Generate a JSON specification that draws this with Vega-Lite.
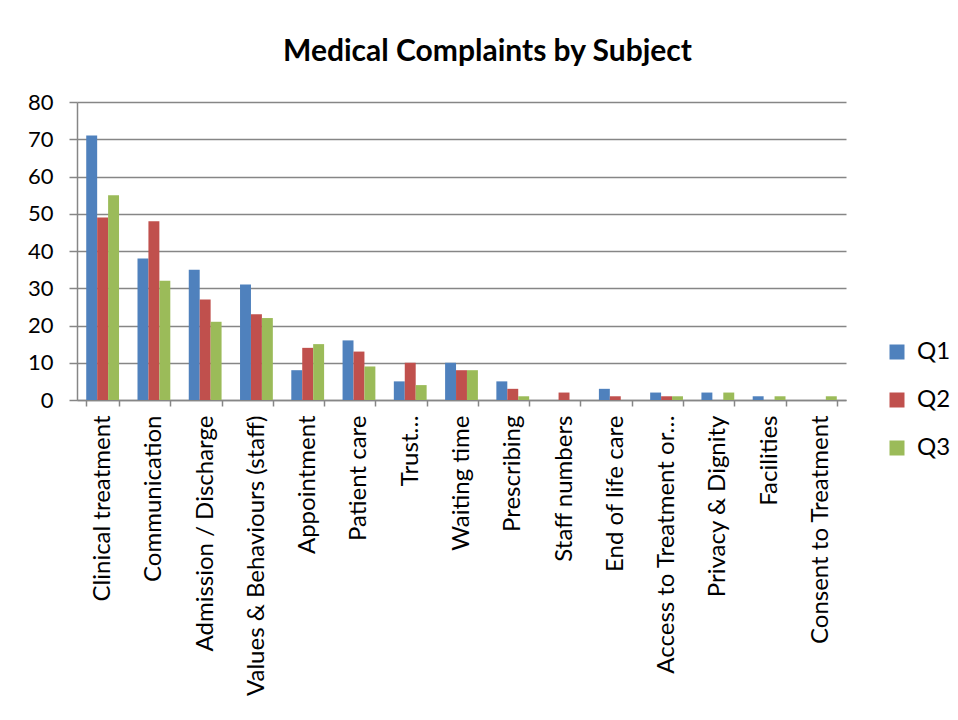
{
  "$schema": "https://vega.github.io/schema/vega-lite/v6.json",
  "autosize": "none",
  "width": 769,
  "height": 298,
  "padding": {"left": 77, "top": 102, "right": 112, "bottom": 320},
  "background": "white",
  "title": {"text": "Medical Complaints by Subject", "anchor": "middle", "frame": "group", "dx": 26, "offset": 24, "fontSize": 30, "font": "Lato", "fontWeight": "bold", "color": "black"},
  "data": {"values": [
    {"subject": "Clinical treatment", "q": "Q1", "v": 71}, {"subject": "Clinical treatment", "q": "Q2", "v": 49}, {"subject": "Clinical treatment", "q": "Q3", "v": 55},
    {"subject": "Communication", "q": "Q1", "v": 38}, {"subject": "Communication", "q": "Q2", "v": 48}, {"subject": "Communication", "q": "Q3", "v": 32},
    {"subject": "Admission / Discharge", "q": "Q1", "v": 35}, {"subject": "Admission / Discharge", "q": "Q2", "v": 27}, {"subject": "Admission / Discharge", "q": "Q3", "v": 21},
    {"subject": "Values & Behaviours (staff)", "q": "Q1", "v": 31}, {"subject": "Values & Behaviours (staff)", "q": "Q2", "v": 23}, {"subject": "Values & Behaviours (staff)", "q": "Q3", "v": 22},
    {"subject": "Appointment", "q": "Q1", "v": 8}, {"subject": "Appointment", "q": "Q2", "v": 14}, {"subject": "Appointment", "q": "Q3", "v": 15},
    {"subject": "Patient care", "q": "Q1", "v": 16}, {"subject": "Patient care", "q": "Q2", "v": 13}, {"subject": "Patient care", "q": "Q3", "v": 9},
    {"subject": "Trust…", "q": "Q1", "v": 5}, {"subject": "Trust…", "q": "Q2", "v": 10}, {"subject": "Trust…", "q": "Q3", "v": 4},
    {"subject": "Waiting time", "q": "Q1", "v": 10}, {"subject": "Waiting time", "q": "Q2", "v": 8}, {"subject": "Waiting time", "q": "Q3", "v": 8},
    {"subject": "Prescribing", "q": "Q1", "v": 5}, {"subject": "Prescribing", "q": "Q2", "v": 3}, {"subject": "Prescribing", "q": "Q3", "v": 1},
    {"subject": "Staff numbers", "q": "Q1", "v": 0}, {"subject": "Staff numbers", "q": "Q2", "v": 2}, {"subject": "Staff numbers", "q": "Q3", "v": 0},
    {"subject": "End of life care", "q": "Q1", "v": 3}, {"subject": "End of life care", "q": "Q2", "v": 1}, {"subject": "End of life care", "q": "Q3", "v": 0},
    {"subject": "Access to Treatment or…", "q": "Q1", "v": 2}, {"subject": "Access to Treatment or…", "q": "Q2", "v": 1}, {"subject": "Access to Treatment or…", "q": "Q3", "v": 1},
    {"subject": "Privacy & Dignity", "q": "Q1", "v": 2}, {"subject": "Privacy & Dignity", "q": "Q2", "v": 0}, {"subject": "Privacy & Dignity", "q": "Q3", "v": 2},
    {"subject": "Facilities", "q": "Q1", "v": 1}, {"subject": "Facilities", "q": "Q2", "v": 0}, {"subject": "Facilities", "q": "Q3", "v": 1},
    {"subject": "Consent to Treatment", "q": "Q1", "v": 0}, {"subject": "Consent to Treatment", "q": "Q2", "v": 0}, {"subject": "Consent to Treatment", "q": "Q3", "v": 1}
  ]},
  "mark": {"type": "bar"},
  "encoding": {
    "x": {"field": "subject", "type": "nominal", "sort": null, "title": null,
      "scale": {"paddingInner": 0.36, "paddingOuter": 0.18},
      "axis": {"tickBand": "extent", "labelAngle": -90, "labelAlign": "right", "labelBaseline": "middle", "labelPadding": 9, "labelLimit": 400, "labelFontSize": 24, "labelFont": "Lato", "labelColor": "black", "domainColor": "#868686", "domainWidth": 1.5, "tickColor": "#868686", "tickSize": 6, "tickWidth": 1.5, "grid": false}},
    "xOffset": {"field": "q", "type": "nominal"},
    "y": {"field": "v", "type": "quantitative", "title": null,
      "scale": {"domain": [0, 80]},
      "axis": {"values": [0, 10, 20, 30, 40, 50, 60, 70, 80], "labelFontSize": 22, "labelFont": "Lato", "labelColor": "black", "labelPadding": 16, "domainColor": "#868686", "domainWidth": 1.5, "tickColor": "#868686", "tickSize": 8, "tickWidth": 1.5, "gridColor": "#868686", "gridWidth": 1.5}},
    "color": {"field": "q", "type": "nominal", "title": null,
      "scale": {"domain": ["Q1", "Q2", "Q3"], "range": ["#4F81BD", "#C0504D", "#9BBB59"]},
      "legend": {"orient": "none", "legendX": 808, "legendY": 238, "symbolType": "square", "symbolSize": 225, "symbolStrokeWidth": 0, "labelFontSize": 24, "labelFont": "Lato", "labelColor": "black", "rowPadding": 24, "labelOffset": 8}}
  },
  "config": {"view": {"stroke": null}}
}
